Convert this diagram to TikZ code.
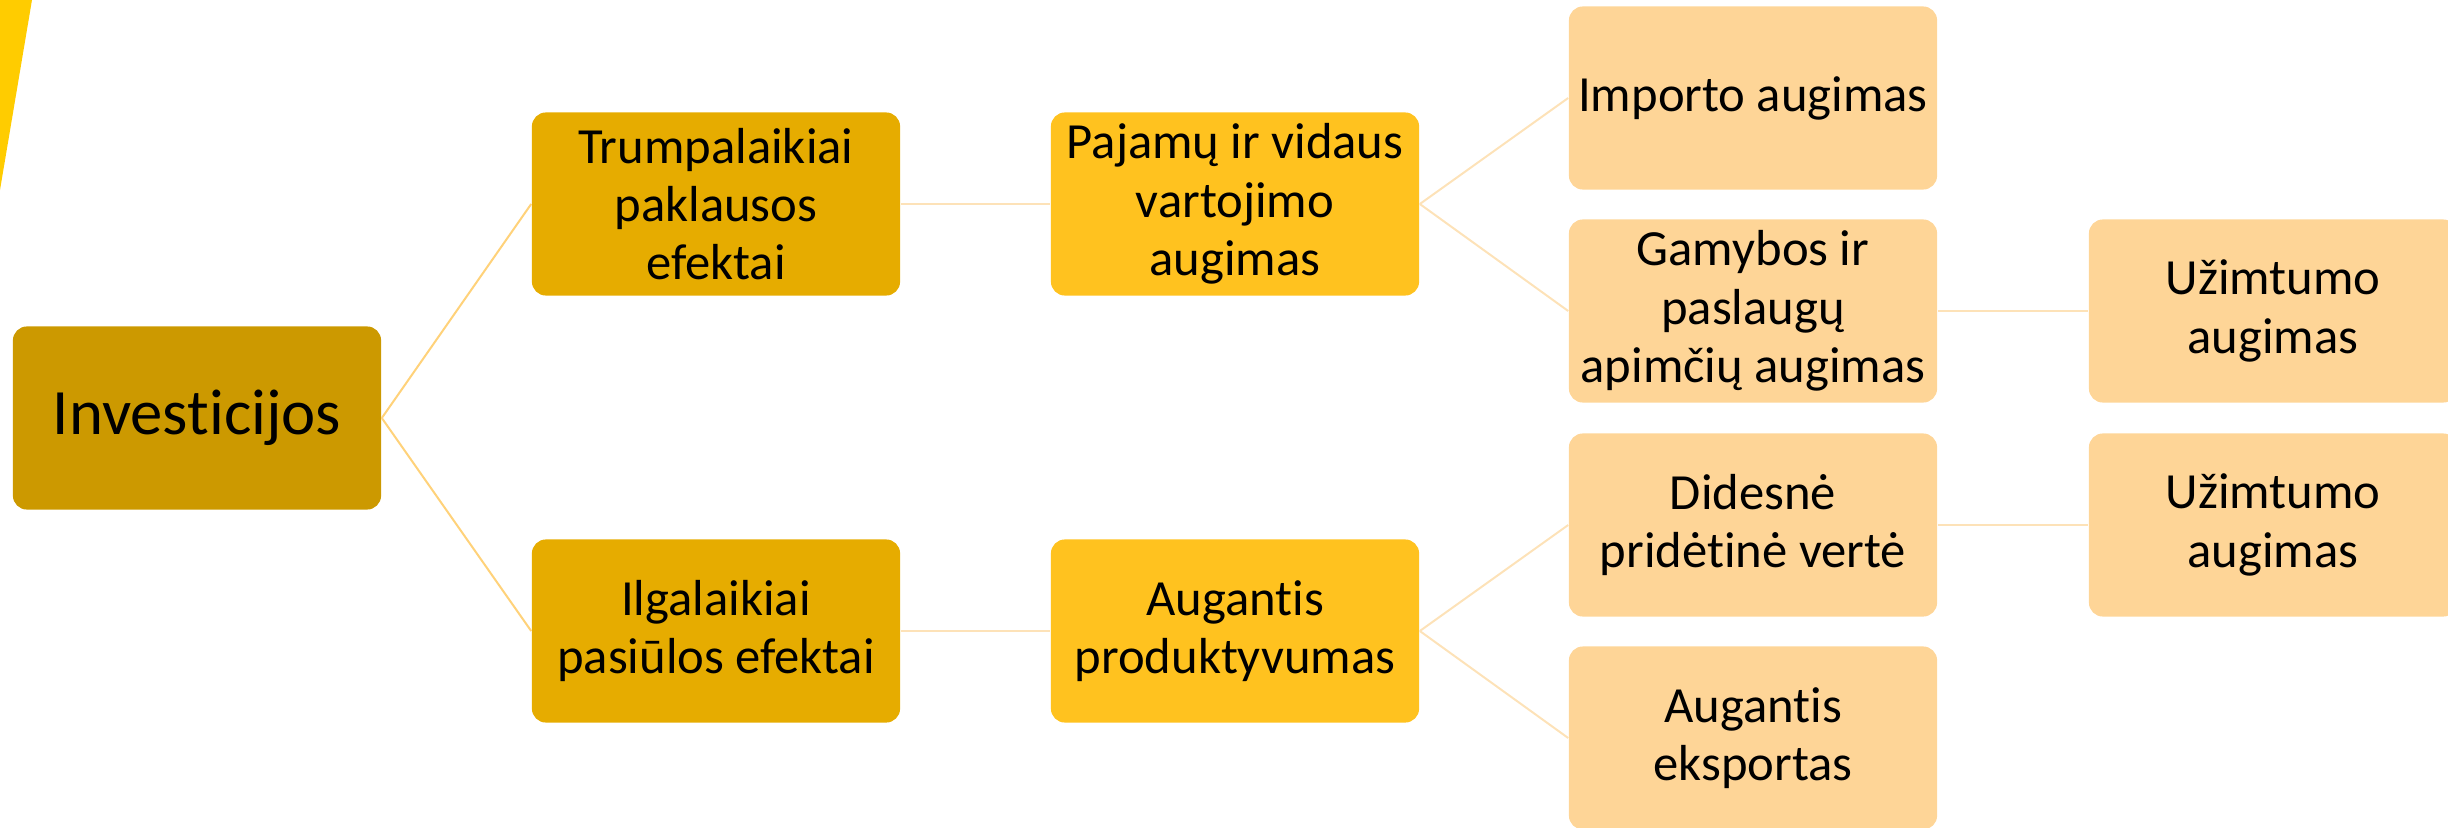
\documentclass[tikz,border=0pt]{standalone}
\usepackage{fontspec}
\setmainfont{Carlito}[Ligatures=NoCommon]
\usepackage{tikz}

\definecolor{rootfill}{HTML}{CC9900}
\definecolor{levelone}{HTML}{E6AC00}
\definecolor{leveltwo}{HTML}{FFC21F}
\definecolor{levelthree}{HTML}{FED597}
\definecolor{cornerfill}{HTML}{FFCC00}
\definecolor{linkdark}{HTML}{FFD27A}
\definecolor{linklight}{HTML}{FDE2B8}

\begin{document}
\begin{tikzpicture}[x=0.01cm, y=-0.01cm,
  effectbox/.style={rectangle, rounded corners=0.14cm, inner sep=0cm,
       minimum width=3.68cm, minimum height=1.83cm, align=center,
       text=black, font=\fontsize{14.4pt}{16.6pt}\selectfont},
  link/.style={line width=0.02cm, color=linkdark},
  softlink/.style={line width=0.02cm, color=linklight}]

\clip[use as bounding box] (0,0) rectangle (2448,827);

% corner mark
\fill[cornerfill] (0,0) -- (32,0) -- (0,190) -- cycle;

% root
\node[effectbox, fill=rootfill, font=\fontsize{18.4pt}{21pt}\selectfont]
  (invest) at (197,418) {Investicijos};

% first level
\node[effectbox, fill=levelone] (shortrun) at (716,204)
  {Trumpalaikiai\\paklausos\\efektai};
\node[effectbox, fill=levelone] (longrun) at (716,631)
  {Ilgalaikiai\\pasiūlos efektai};

% second level
\node[effectbox, fill=leveltwo] (income) at (1235,204)
  {Pajamų ir vidaus\\vartojimo\\augimas};
\node[effectbox, fill=leveltwo] (product) at (1235,631)
  {Augantis\\produktyvumas};

% third level
\node[effectbox, fill=levelthree] (import) at (1753,98)
  {Importo augimas};
\node[effectbox, fill=levelthree] (output) at (1753,311)
  {Gamybos ir\\paslaugų\\apimčių augimas};
\node[effectbox, fill=levelthree] (value) at (1753,525)
  {Didesnė\\pridėtinė vertė};
\node[effectbox, fill=levelthree] (export) at (1753,738)
  {Augantis\\eksportas};

% fourth level
\node[effectbox, fill=levelthree] (jobsa) at (2273,311)
  {Užimtumo\\augimas};
\node[effectbox, fill=levelthree] (jobsb) at (2273,525)
  {Užimtumo\\augimas};

% connectors
\draw[link] (invest.east) -- (shortrun.west);
\draw[link] (invest.east) -- (longrun.west);
\draw[softlink] (shortrun.east) -- (income.west);
\draw[softlink] (longrun.east) -- (product.west);
\draw[softlink] (income.east) -- (import.west);
\draw[softlink] (income.east) -- (output.west);
\draw[softlink] (product.east) -- (value.west);
\draw[softlink] (product.east) -- (export.west);
\draw[softlink] (output.east) -- (jobsa.west);
\draw[softlink] (value.east) -- (jobsb.west);
\end{tikzpicture}
\end{document}
